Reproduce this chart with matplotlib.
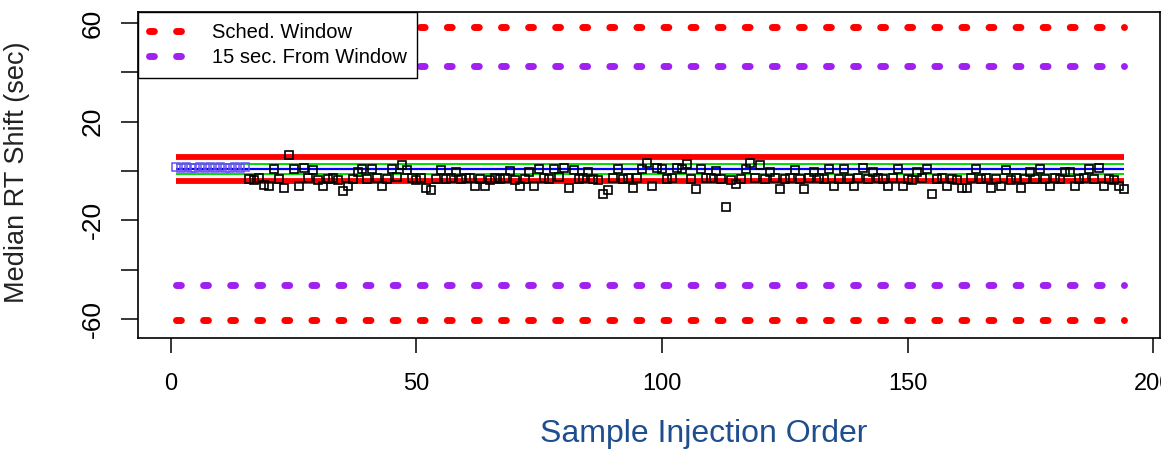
import matplotlib.pyplot as plt
from matplotlib.lines import Line2D

plt.rcParams['font.family'] = ['Liberation Sans', 'DejaVu Sans']

# first injections (drawn in blue/violet)
x_first = list(range(1, 16))
y_first = [1.5, 1.3, 1.6, 1.4, 1.2, 1.5, 1.3, 1.6, 1.4, 1.5, 1.2, 1.4, 1.6, 1.3, 1.5]

# remaining injections 16..194
x_rest = list(range(16, 195))
y_rest = [
    -3.2, -3.5, -2.9, -5.8, -6.0, 0.8, -3.4, -7.0, 6.3, 0.9,
    -6.1, 1.1, -2.8, 0.6, -3.6, -6.0, -3.3, -2.9, -3.8, -8.2,
    -6.0, -3.1, -0.4, 0.7, -3.3, 0.9, -2.7, -6.1, -3.2, 1.0,
    -2.4, 2.3, 0.4, -3.0, -3.6, -2.9, -6.9, -7.6, -3.1, 0.6,
    -3.3, -2.8, -0.3, -3.4, -3.0, -2.7, -6.0, -3.2, -6.1, -3.5,
    -2.9, -3.3, -3.0, -0.2, -3.6, -5.9, -3.1, -0.4, -6.1, 0.8,
    -3.0, -3.4, 0.9, -2.6, 1.2, -6.9, 0.6, -3.2, -2.9, -0.3,
    -3.1, -3.5, -9.3, -7.7, -3.0, 0.7, -3.3, -2.8, -6.7, -3.0,
    1.0, 3.2, -6.2, 1.1, 0.9, -3.3, -2.9, 1.2, 0.8, 3.0,
    -3.4, -7.3, 0.7, -3.0, -2.8, -0.2, -3.2, -14.6, -3.5, -5.3,
    -3.1, 0.9, 3.2, -2.9, 2.4, -3.3, -0.4, -3.0, -7.3, -3.4,
    -2.8, 0.6, -3.2, -7.3, -3.0, -0.3, -2.9, -3.4, 0.8, -6.1,
    -3.1, 0.9, -3.3, -6.1, -2.7, 1.1, -3.2, -0.4, -3.0, -3.4,
    -6.1, -2.9, 0.7, -6.0, -3.3, -3.6, -0.3, -3.0, 0.8, -9.4,
    -3.4, -2.8, -6.1, -3.1, -3.5, -6.9, -6.8, -3.0, 1.0, -3.4,
    -2.9, -6.9, -3.2, -6.1, 0.6, -3.5, -3.0, -6.9, -3.3, -0.4,
    -3.1, 1.0, -3.4, -6.1, -2.8, -3.2, -0.3, -0.4, -6.1, -3.3,
    -2.9, 0.7, -3.4, 1.2, -6.0, -3.1, -3.5, -6.2, -7.3,
]

x_span = [1, 194]
sched_window = [58.3, -60.4]
from_window = [42.6, -46.2]
red_band = [5.7, -3.9]
green_band = [2.9, -1.3]
blue_center = [0.8]

fig = plt.figure(figsize=(11.61, 4.49), dpi=100)
ax = fig.add_axes([138 / 1161, (449 - 338) / 449, (1160 - 138) / 1161, (338 - 12) / 449])

dot_kw = dict(lw=5, dashes=(0.7, 3.2), dash_capstyle='round')

for v in sched_window:
    ax.plot(x_span, [v, v], color='#ff0000', **dot_kw)
for v in from_window:
    ax.plot(x_span, [v, v], color='#a020f0', **dot_kw)

for v in red_band:
    ax.plot(x_span, [v, v], color='#ff0000', lw=4.2, solid_capstyle='butt')
for v in green_band:
    ax.plot(x_span, [v, v], color='#00dd00', lw=1.4, solid_capstyle='butt')
for v in blue_center:
    ax.plot(x_span, [v, v], color='#0000ff', lw=1.6, solid_capstyle='butt')

ax.plot(x_first, y_first, 's', mfc='none', mec='#6b4ff0', ms=6, mew=1.1, zorder=3)
ax.plot(x_rest, y_rest, 's', mfc='none', mec='black', ms=6, mew=1.2, zorder=3)

ax.set_xlim(-6.7, 201.4)
ax.set_ylim(-67.7, 64.45)

for s in ax.spines.values():
    s.set_linewidth(1.2)
    s.set_color('black')

ax.set_xticks([0, 50, 100, 150, 200])
ax.tick_params(axis='x', length=11, width=1.1, pad=14, labelsize=17)
ax.set_yticks(list(range(-60, 61, 20)))
ax.set_yticklabels(['-60', '', '-20', '', '20', '', '60'], rotation=90, va='center')
ax.tick_params(axis='y', length=12, width=1.1, pad=12, labelsize=19)

ax.set_ylabel('Median RT Shift (sec)', fontsize=19.5, color='#222222')
ax.yaxis.set_label_coords(-0.106, 0.509)
fig.text(704 / 1161, 1 - 434 / 449, 'Sample Injection Order', fontsize=23,
         color='#1f4e8f', ha='center', va='center')

handles = [Line2D([], [], color='#ff0000', **dot_kw),
           Line2D([], [], color='#a020f0', **dot_kw)]
leg = ax.legend(handles, ['Sched. Window', '15 sec. From Window'], loc='upper left',
                borderaxespad=0, fancybox=False, edgecolor='black', framealpha=1,
                fontsize=14.5, handlelength=2.3, handletextpad=0.8, borderpad=0.55,
                labelspacing=0.3)
leg.get_frame().set_linewidth(1.0)
leg.set_zorder(5)

fig.savefig('out.png', dpi=100)
